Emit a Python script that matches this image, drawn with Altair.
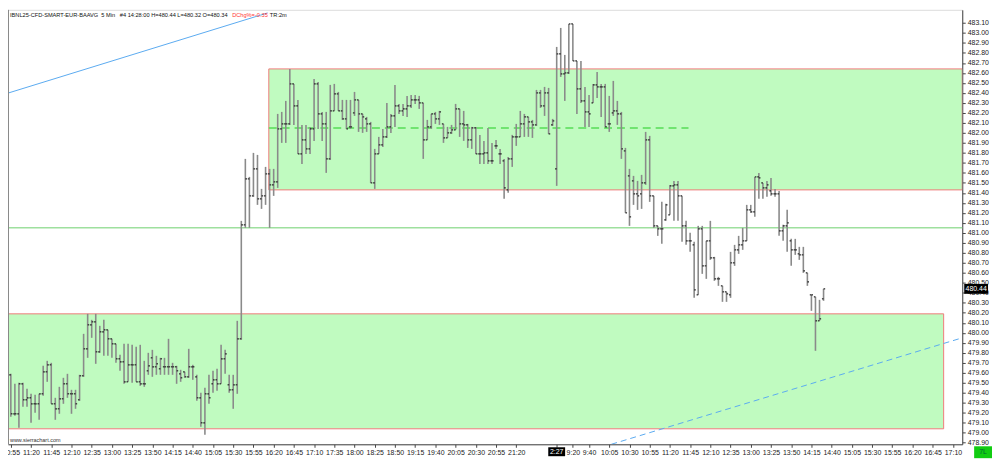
import json
import altair as alt
import pandas as pd

# ---------------- data ----------------
opens = [479.58,479.19,479.19,479.49,479.33,479.35,479.29,479.29,479.39,479.61,
         479.68,479.29,479.24,479.34,479.49,479.39,479.39,479.33,479.57,479.84,
         480.08,480.11,479.81,480.01,480.03,479.94,479.89,479.74,479.71,479.51,
         479.68,479.68,479.51,479.49,479.62,479.75,479.66,479.64,479.66,479.66,
         479.66,479.66,479.59,479.61,479.56,479.66,479.56,479.35,479.10,479.39,
         479.49,479.53,479.49,479.74,479.48,479.43,479.48,479.94,481.08,481.54,
         481.37,481.64,481.34,481.37,481.59,481.48,481.51,482.04,482.09,482.09,
         482.49,482.27,481.79,481.93,481.84,482.04,482.49,482.19,482.09,481.74,
         482.22,482.39,482.22,482.14,482.06,482.20,482.33,482.19,482.14,482.09,
         481.50,481.79,481.88,481.96,482.06,482.17,482.27,482.22,482.24,482.27,
         482.33,482.33,482.30,481.93,482.06,482.19,482.14,482.09,481.95,482.00,
         482.03,482.24,482.09,482.08,481.93,482.05,481.79,481.79,481.80,481.72,
         481.87,481.79,481.72,481.43,481.74,481.96,481.96,482.09,482.16,482.11,
         482.08,482.40,482.27,482.40,482.08,
         481.64,482.79,482.59,482.60,483.09,482.72,482.44,482.32,482.21,482.30,
         482.48,482.46,482.46,482.09,482.20,482.22,482.19,481.82,481.57,481.52,
         481.39,481.39,481.50,481.93,481.37,481.07,481.04,481.13,481.18,481.47,
         481.48,481.37,481.07,480.92,480.88,480.38,481.04,480.67,480.92,480.75,
         480.54,480.47,480.41,480.38,480.70,480.83,480.88,480.92,481.23,481.21,
         481.56,481.50,481.45,481.42,481.39,481.39,481.02,481.07,480.92,480.83,
         480.79,480.78,480.60,480.38,480.36,480.12,480.34]
highs = [479.59,479.49,479.50,479.50,479.44,479.39,479.38,479.39,479.67,479.72,
         479.70,479.35,479.46,479.55,479.59,479.43,479.43,479.58,479.99,480.19,
         480.13,480.19,480.07,480.13,480.03,479.94,479.89,479.78,479.89,479.89,
         479.88,479.86,479.88,479.72,479.80,479.83,479.77,479.75,479.75,479.94,
         479.70,479.67,479.63,479.61,479.84,479.68,479.58,479.40,479.45,479.58,
         479.62,479.64,479.88,479.83,479.58,479.58,480.12,481.12,481.74,481.56,
         481.80,481.78,481.44,481.66,481.64,481.64,482.19,482.21,482.32,482.64,
         482.49,482.33,482.08,482.08,482.06,482.54,482.51,482.21,482.21,482.48,
         482.49,482.41,482.33,482.33,482.33,482.41,482.33,482.19,482.16,482.11,
         481.84,481.96,482.04,482.30,482.19,482.48,482.29,482.29,482.37,482.38,
         482.38,482.37,482.30,482.13,482.19,482.21,482.22,482.09,482.06,482.08,
         482.29,482.24,482.22,482.09,482.06,482.06,481.98,481.92,482.05,481.90,
         481.93,481.84,481.74,481.76,481.98,482.09,482.22,482.19,482.16,482.13,
         482.43,482.43,482.46,482.45,482.14,
         482.86,483.05,482.78,483.09,483.09,482.72,482.72,482.46,482.38,482.49,
         482.61,482.49,482.49,482.37,482.52,482.32,482.21,481.85,481.64,481.57,
         481.52,481.58,482.01,481.97,481.37,481.07,481.31,481.29,481.48,481.52,
         481.52,481.37,481.12,481.00,480.91,481.07,481.07,480.92,481.12,480.76,
         480.56,480.47,480.41,480.81,480.88,480.97,481.05,481.28,481.28,481.56,
         481.60,481.50,481.52,481.55,481.44,481.42,481.08,481.23,480.94,480.94,
         480.86,480.86,480.60,480.38,480.36,480.33,480.44]
lows = [479.16,479.17,479.05,479.26,479.26,479.10,479.20,479.13,479.37,479.51,
        479.29,479.13,479.19,479.29,479.35,479.19,479.24,479.32,479.56,479.75,
        479.95,479.69,479.80,479.77,479.77,479.75,479.70,479.62,479.49,479.51,
        479.50,479.51,479.47,479.46,479.58,479.56,479.58,479.58,479.58,479.58,
        479.58,479.49,479.51,479.55,479.55,479.53,479.32,479.06,478.98,479.29,
        479.40,479.42,479.49,479.59,479.40,479.24,479.39,479.93,481.05,481.05,
        481.36,481.28,481.24,481.28,481.05,481.37,481.45,481.90,481.90,482.08,
        482.08,481.79,481.69,481.79,481.79,481.92,482.04,481.92,481.60,481.73,
        482.22,482.22,482.13,482.04,482.04,482.17,482.01,482.00,482.01,481.50,
        481.44,481.79,481.86,481.95,482.00,482.06,482.19,482.17,482.16,482.25,
        482.29,482.24,481.74,481.93,482.04,482.09,482.08,481.90,481.95,481.99,
        482.03,481.96,481.92,481.85,481.84,481.79,481.69,481.69,481.69,481.69,
        481.84,481.69,481.34,481.40,481.66,481.87,481.96,481.96,481.96,481.95,
        482.07,482.25,482.17,481.99,482.07,
        481.47,482.56,482.32,482.59,482.72,482.19,482.30,482.06,482.06,482.30,
        482.35,482.16,482.06,482.01,482.17,482.08,481.74,481.20,481.07,481.28,
        481.23,481.24,481.48,481.31,481.05,480.97,480.89,481.12,481.18,481.12,
        481.12,480.91,480.88,480.81,480.35,480.38,480.59,480.54,480.73,480.52,
        480.47,480.31,480.31,480.35,480.67,480.79,480.83,480.92,481.20,481.16,
        481.34,481.34,481.36,481.37,481.36,480.97,480.92,480.81,480.67,480.78,
        480.73,480.60,480.47,480.22,479.82,480.12,480.32]
closes = [479.19,479.19,479.49,479.33,479.35,479.29,479.29,479.39,479.61,479.68,
          479.29,479.24,479.34,479.49,479.39,479.39,479.29,479.57,479.84,480.08,
          480.11,479.81,480.01,480.03,479.94,479.89,479.74,479.71,479.51,479.68,
          479.68,479.51,479.49,479.49,479.67,479.66,479.69,479.74,479.66,479.66,
          479.66,479.62,479.55,479.56,479.66,479.66,479.35,479.10,479.39,479.35,
          479.53,479.49,479.74,479.79,479.43,479.48,479.94,481.08,481.54,481.37,
          481.64,481.34,481.37,481.59,481.48,481.51,482.04,482.09,482.09,482.49,
          482.27,481.79,481.93,481.84,482.04,482.49,482.19,482.09,481.74,482.22,
          482.39,482.22,482.14,482.04,482.06,482.33,482.19,482.16,482.09,481.50,
          481.79,481.88,481.96,482.06,482.17,482.27,482.22,482.24,482.27,482.33,
          482.33,482.30,481.93,482.06,482.19,482.14,482.21,481.95,482.00,482.03,
          482.24,482.09,482.08,481.93,482.05,481.79,481.79,481.80,481.72,481.72,
          481.87,481.79,481.45,481.74,481.96,481.96,482.09,482.16,482.11,482.08,
          482.40,482.27,482.40,481.99,482.12,
          482.79,482.59,482.60,483.09,482.72,482.44,482.32,482.21,482.19,482.48,
          482.46,482.46,482.06,482.09,482.22,482.19,481.84,481.20,481.16,481.39,
          481.37,481.50,481.93,481.37,481.07,481.04,481.04,481.28,481.47,481.48,
          481.37,481.07,480.92,480.92,480.43,481.04,480.67,480.92,480.75,480.54,
          480.54,480.41,480.39,480.70,480.83,480.88,480.92,481.23,481.21,481.56,
          481.55,481.45,481.48,481.39,481.39,481.02,481.07,481.10,480.83,480.83,
          480.78,480.62,480.51,480.38,480.12,480.14,480.44]

day1_labels = ["10:55","11:20","11:45","12:10","12:35","13:00","13:25","13:50","14:15",
               "14:40","15:05","15:30","15:55","16:20","16:45","17:10","17:35","18:00",
               "18:25","18:50","19:15","19:40","20:05","20:30","20:55","21:20"]
day2_labels = ["9:20","9:40","10:05","10:30","10:55","11:20","11:45","12:10","12:35",
               "13:00","13:25","13:50","14:15","14:40","15:05","15:30","15:55","16:20",
               "16:45","17:10"]
date_label = "2:27"
day2_start = 135

y_ticks = [round(478.9 + 0.1 * k, 2) for k in range(43)]

# zones / drawn objects (index, price)
upper_box = {"x1": 63.8, "x2": 235.3, "y1": 481.43, "y2": 482.64}
lower_box = {"x1": -0.7, "x2": 230.7, "y1": 479.04, "y2": 480.19}
mid_dash = {"x1": 63.8, "x2": 167.6, "y": 482.05}
green_level = 481.05
blue_solid = [(-0.7, 482.398), (63.5, 483.20)]
blue_dash = [(148.5, 478.885), (235.3, 479.95)]
last_price = 480.44

header_main = "IBNL25-CFD-SMART-EUR-BAAVG\u00a0\u00a05 Min\u00a0\u00a0\u00a0#4 14:28:00 H=480.44 L=480.32 O=480.34"
header_red = "DChg%=-0.35"
header_end = "TR:2m"

# ---------------- build ----------------
W, H = 962, 438
XD = [-0.7, 235.3]
YD = [478.885, 483.231]

n = len(opens)
bars = pd.DataFrame({"i": list(range(n)), "o": opens, "h": highs, "l": lows, "c": closes})
bars["il"] = bars["i"] - 0.4
bars["ir"] = bars["i"] + 0.4

tick_idx = list(range(0, 130, 5)) + [day2_start, 139, 143] + list(range(148, 234, 5))
tick_lab = day1_labels + [""] + day2_labels
label_expr = f"{json.dumps(tick_lab)}[indexof({json.dumps(tick_idx)}, datum.value)]"

xs = alt.Scale(domain=XD, nice=False, zero=False)
ys = alt.Scale(domain=YD, nice=False, zero=False)

XA = alt.Axis(values=tick_idx, labelExpr=label_expr, grid=False, domainColor="#444",
              tickColor="#444", tickSize=3, labelFontSize=7, labelColor="#222",
              labelFont="Liberation Sans", labelPadding=1, title=None, labelOverlap=False,
              labelFlush=False)
YA = alt.Axis(orient="right", values=y_ticks, format=".2f", grid=False, domainColor="#444",
              tickColor="#444", tickSize=3, labelFontSize=7, labelColor="#222",
              labelFont="Liberation Sans", labelPadding=2, title=None, labelOverlap=False,
              labelFlush=False)


def X(f):
    return alt.X(f, scale=xs, axis=XA)


def Y(f):
    return alt.Y(f, scale=ys, axis=YA)


boxes = pd.DataFrame([upper_box, lower_box])
box_layer = alt.Chart(boxes).mark_rect(fill="#c0fbc0", stroke="#f07a7a", strokeWidth=1, clip=True).encode(
    x=X("x1:Q"), x2="x2:Q", y=Y("y1:Q"), y2="y2:Q")

level = alt.Chart(pd.DataFrame({"y": [green_level]})).mark_rule(color="#9ee09e", strokeWidth=1.5).encode(
    y=Y("y:Q"), x=alt.value(0), x2=alt.value(W))

mid = alt.Chart(pd.DataFrame([mid_dash])).mark_rule(color="#55dd55", strokeWidth=1.5, strokeDash=[8, 5]).encode(
    x=X("x1:Q"), x2="x2:Q", y=Y("y:Q"))

bs = pd.DataFrame(blue_solid, columns=["x", "y"])
blue1 = alt.Chart(bs).mark_line(color="#5aaaf0", strokeWidth=1, clip=True).encode(x=X("x:Q"), y=Y("y:Q"))
bd = pd.DataFrame(blue_dash, columns=["x", "y"])
blue2 = alt.Chart(bd).mark_line(color="#5aaaf0", strokeWidth=1, strokeDash=[6, 4], clip=True).encode(
    x=X("x:Q"), y=Y("y:Q"))

base = alt.Chart(bars)
hl = base.mark_rule(color="#8a8a8a", strokeWidth=1.6).encode(x=X("i:Q"), y=Y("l:Q"), y2="h:Q")
op = base.mark_rule(color="#222", strokeWidth=1.2).encode(x=X("il:Q"), x2="i:Q", y=Y("o:Q"))
cl = base.mark_rule(color="#222", strokeWidth=1.2).encode(x=X("i:Q"), x2="ir:Q", y=Y("c:Q"))

left_border = alt.Chart(pd.DataFrame({"a": [0]})).mark_rule(color="#888", strokeWidth=1).encode(
    x=alt.value(0.5), y=alt.value(0), y2=alt.value(H))

# date label on x axis
date_df = pd.DataFrame({"x": [day2_start], "t": [date_label]})
date_box = alt.Chart(date_df).mark_tick(orient="horizontal", color="#000", thickness=9, size=17, opacity=1).encode(
    x=X("x:Q"), y=alt.value(H + 7.5))
date_txt = alt.Chart(date_df).mark_text(color="white", fontSize=7, font="Liberation Sans").encode(
    x=X("x:Q"), y=alt.value(H + 8), text="t:N")

# last price box on the price scale
lp = pd.DataFrame({"y": [last_price], "t": [f"{last_price:.2f}"]})
lp_box = alt.Chart(lp).mark_tick(orient="horizontal", color="#000", thickness=10, size=24, opacity=1).encode(
    y=Y("y:Q"), x=alt.value(W + 14))
lp_txt = alt.Chart(lp).mark_text(color="white", fontSize=7, font="Liberation Sans", align="center").encode(
    y=Y("y:Q"), x=alt.value(W + 14), text="t:N")

corner = alt.Chart(pd.DataFrame({"t": ["7L"]}))
corner_box = corner.mark_rect(color="#11cc11").encode(
    x=alt.value(W + 12), x2=alt.value(W + 30), y=alt.value(H + 2), y2=alt.value(H + 14))
corner_txt = corner.mark_text(color="#063", fontSize=7, font="Liberation Sans").encode(
    x=alt.value(W + 21), y=alt.value(H + 8), text="t:N")

# header text
hdr = pd.DataFrame({"t": [header_main], "r": [header_red], "e": [header_end]})
FS = 5.7
h1 = alt.Chart(hdr).mark_text(align="left", fontSize=FS, font="Liberation Sans", color="#111").encode(
    x=alt.value(2), y=alt.value(5), text="t:N")
h2 = alt.Chart(hdr).mark_text(align="left", fontSize=FS, font="Liberation Sans", color="#ff3333").encode(
    x=alt.value(226), y=alt.value(5), text="r:N")
h3 = alt.Chart(hdr).mark_text(align="left", fontSize=FS, font="Liberation Sans", color="#111").encode(
    x=alt.value(264), y=alt.value(5), text="e:N")
wm = alt.Chart(hdr).mark_text(align="left", fontSize=5.5, font="Liberation Sans", color="#333").encode(
    x=alt.value(2), y=alt.value(H - 4), text=alt.value("www.sierrachart.com"))

chart = alt.layer(
    box_layer, level, mid, blue1, blue2, hl, op, cl, left_border,
    date_box, date_txt, lp_box, lp_txt, corner_box, corner_txt, h1, h2, h3, wm
).properties(
    width=W, height=H,
    autosize=alt.AutoSizeParams(type="none"),
    padding={"left": 0, "top": 0, "right": 30, "bottom": 16},
).configure_view(stroke=None).configure(background="white")

chart.save("out.html", embed_options={"renderer": "svg", "actions": False})
